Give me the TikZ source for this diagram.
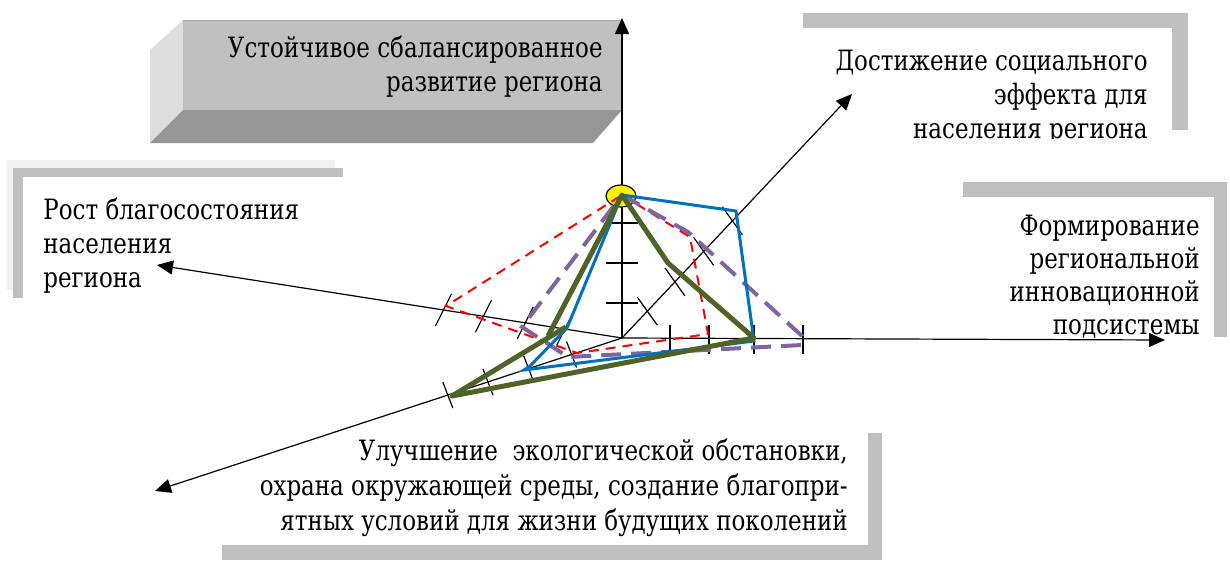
\documentclass[tikz,border=0pt]{standalone}
\usepackage{fontspec}
\setmainfont{DejaVu Serif}[FakeStretch=0.82]
\newfontfamily\labelfont{DejaVu Serif}[FakeStretch=0.82]
\usepackage{tikz}
\usetikzlibrary{arrows.meta,calc}
\definecolor{lineblue}{RGB}{0,112,192}
\definecolor{olive}{RGB}{79,98,40}
\definecolor{lilac}{RGB}{128,100,162}
\definecolor{frontgray}{RGB}{192,192,192}
\definecolor{sidegray}{RGB}{222,222,222}
\definecolor{undergray}{RGB}{150,150,150}
\definecolor{framegray}{RGB}{191,191,191}
\definecolor{palegray}{RGB}{240,240,240}

\begin{document}
\begin{tikzpicture}[x=0.5pt,y=-0.5pt,
    axis/.style={-{Triangle[length=8pt,width=7pt]},line width=0.6pt},
    tick/.style={line width=0.6pt},
    lbl/.style={inner sep=0pt,font=\labelfont\fontsize{14}{17}\selectfont}]
    \useasboundingbox (0,0) rectangle (1230,562);
    \coordinate (O) at (622,338);
    \coordinate (top) at (622,195);
    \coordinate (up) at (622,18);
    \coordinate (right) at (1165,340);
    \coordinate (left) at (157,265);
    \coordinate (low) at (155,491);
    \coordinate (diag) at (852,94);

    % frames behind the labels
    \fill[palegray] (7,160) rectangle (335,168);
    \fill[palegray] (7,160) rectangle (13,290);
    \fill[framegray] (13,168) rectangle (343,177);
    \fill[framegray] (13,168) rectangle (23,298);
    \fill[framegray] (803,13) rectangle (1188,28);
    \fill[framegray] (1172,13) rectangle (1188,130);
    \fill[framegray] (963,182) rectangle (1227,197);
    \fill[framegray] (1214,182) rectangle (1227,337);
    \fill[framegray] (868,433) rectangle (882,560);
    \fill[framegray] (222,545) rectangle (882,560);

    % bevelled box
    \fill[sidegray] (150,50) -- (183,20) -- (183,110) -- (150,143) -- cycle;
    \fill[undergray] (183,110) -- (622,110) -- (593,143) -- (150,143) -- cycle;
    \fill[frontgray] (183,20) rectangle (622,110);
    \draw[gray!70,line width=0.8pt] (183,20.5) -- (622,20.5);

    \node[lbl,align=right,anchor=north east] (goal) at (603,35)
        {Устойчивое сбалансированное\\развитие региона};
    \begin{scope}
      \clip (780,0) rectangle (1230,138);
      \node[lbl,align=right,anchor=north east] (social) at (1148,50)
          {Достижение социального\\эффекта для\\населения региона};
    \end{scope}
    \node[lbl,align=right,anchor=north east,font=\labelfont\fontsize{14}{16.5}\selectfont] (innov) at (1200,215)
        {Формирование\\региональной\\инновационной\\подсистемы};
    \node[lbl,align=left,anchor=north west] (wealth) at (43,197)
        {Рост благосостояния\\населения\\региона};
    \node[lbl,align=right,anchor=north east,font=\labelfont\fontsize{14}{17.5}\selectfont] (ecology) at (848,438)
        {Улучшение\ \ экологической обстановки,\\охрана окружающей среды, создание благопри-\\ятных условий для жизни будущих поколений};

    % axes
    \draw[axis] (O) -- (up);
    \draw[axis] (O) -- (right);
    \draw[axis] (O) -- (left);
    \draw[axis] (O) -- (low);
    \draw[axis] (O) -- (diag);

    % ticks
    \foreach \y in {223,263,303}
      \draw[tick] (606,\y) -- (638,\y);
    \foreach \x in {670,709,754,803}
      \draw[tick] (\x,325) -- (\x,354);
    \foreach \t in {0.11,0.23,0.355,0.48}
      \draw[tick] ($(O)!\t!(diag)$) ++(-10,-14) -- ++(20,28);
    \foreach \t in {0.123,0.208,0.298,0.384}
      \draw[tick] ($(O)!\t!(left)$) ++(8,-16) -- ++(-16,32);
    \foreach \t in {0.108,0.2,0.287,0.373}
      \draw[tick] ($(O)!\t!(low)$) ++(-5,-13) -- ++(10,26);

    \draw[fill=yellow,line width=0.6pt] (621,196) ellipse (15 and 11);

    % profiles
    \draw[red,line width=1pt,dash pattern=on 5pt off 3.5pt]
        (top) -- (690,237) -- (708,334) -- (577,353) -- (446,306) -- cycle;
    \draw[lilac,line width=2pt,dash pattern=on 10pt off 5pt]
        (top) -- (688,232) -- (802,336) -- (802,345) -- (568,357) -- (522,327) -- cycle;
    \draw[lineblue,line width=1.5pt]
        (top) -- (736,211) -- (754,341) -- (524,370) -- (530,366) -- (567,328) -- cycle;
    \draw[olive,line width=2.5pt,line join=round]
        (548,336) -- (top) -- (668,263) -- (754,338) -- (452,396) -- (566,327);
\end{tikzpicture}
\end{document}
